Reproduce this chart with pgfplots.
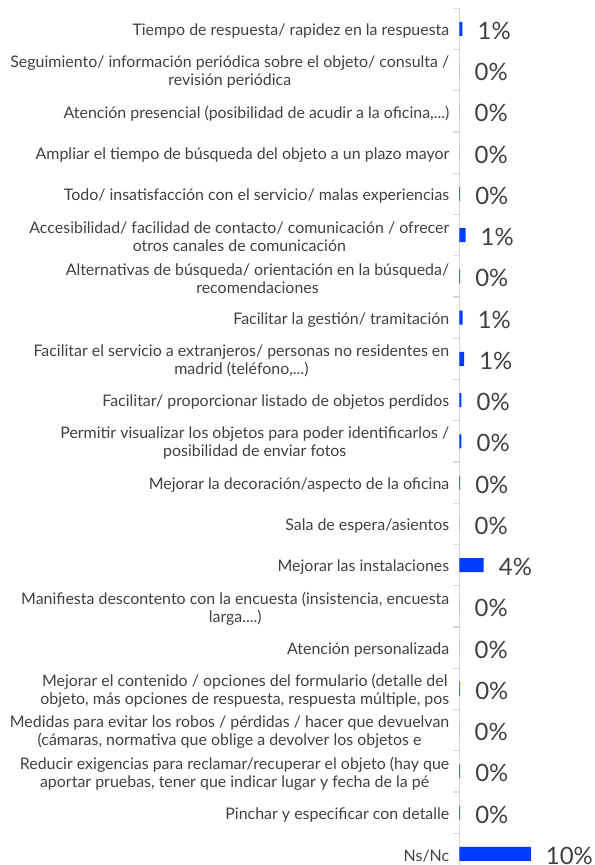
\documentclass[border=0pt]{standalone}
\usepackage{pgfplots}
\pgfplotsset{compat=1.18}
\usepackage{fontspec}
\setmainfont{Lato}
\definecolor{barblue}{RGB}{0,60,255}
\definecolor{txtgray}{RGB}{64,64,64}
\definecolor{axgray}{RGB}{217,217,217}
\newcommand{\tdots}{...}
\begin{document}
\begin{tikzpicture}
\begin{axis}[
  x=7.13bp, y=41.25bp,
  y dir=reverse,
  scale only axis,
  xmin=0, xmax=18.93,
  ymin=-0.5, ymax=20.27,
  axis y line*=left,
  axis x line=none,
  axis line style={axgray, line width=1.6bp},
  xtick=\empty,
  ytick={0,1,2,3,4,5,6,7,8,9,10,11,12,13,14,15,16,17,18,19,20},
  minor ytick={-0.5,0.5,1.5,2.5,3.5,4.5,5.5,6.5,7.5,8.5,9.5,10.5,11.5,12.5,13.5,14.5,15.5,16.5,17.5,18.5,19.5},
  major tick length=0pt,
  minor tick length=6bp,
  tick align=outside,
  every minor tick/.style={axgray, line width=1.2bp},
  yticklabels={
    {Tiempo de respuesta/ rapidez en la respuesta},
    {Seguimiento/ información periódica sobre el objeto/ consulta /\\revisión periódica},
    {Atención presencial (posibilidad de acudir a la oficina,\tdots)},
    {Ampliar el tiempo de búsqueda del objeto a un plazo mayor},
    {Todo/ insatisfacción con el servicio/ malas experiencias},
    {Accesibilidad/ facilidad de contacto/ comunicación / ofrecer\\otros canales de comunicación},
    {Alternativas de búsqueda/ orientación en la búsqueda/\\recomendaciones},
    {Facilitar la gestión/ tramitación},
    {Facilitar el servicio a extranjeros/ personas no residentes en\\madrid (teléfono,\tdots)},
    {Facilitar/ proporcionar listado de objetos perdidos},
    {Permitir visualizar los objetos para poder identificarlos /\\posibilidad de enviar fotos},
    {Mejorar la decoración/aspecto de la oficina},
    {Sala de espera/asientos},
    {Mejorar las instalaciones},
    {Manifiesta descontento con la encuesta (insistencia, encuesta\\larga.\tdots)},
    {Atención personalizada},
    {Mejorar el contenido / opciones del formulario (detalle del\\objeto, más opciones de respuesta, respuesta múltiple, pos},
    {Medidas para evitar los robos / pérdidas / hacer que devuelvan\\(cámaras, normativa que oblige a devolver los objetos e},
    {Reducir exigencias para reclamar/recuperar el objeto (hay que\\aportar pruebas, tener que indicar lugar y fecha de la pé},
    {Pinchar y especificar con detalle},
    {Ns/Nc}
  },
  yticklabel style={align=center, font=\fontsize{16}{18}\selectfont, text=txtgray, inner sep=0pt, xshift=-10bp, yshift=-2bp},
  clip=false,
  point meta=explicit symbolic,
  nodes near coords={\pgfplotspointmeta\%},
  every node near coord/.append style={anchor=west, inner sep=0pt, xshift=15bp, yshift=-2bp, font=\fontsize{24}{28}\selectfont, text=txtgray},
]
\addplot[xbar, bar width=14bp, fill=barblue, draw=none] coordinates {
  (0.42,0) [1]
  (0,1) [0]
  (0,2) [0]
  (0,3) [0]
  (0.1,4) [0]
  (0.85,5) [1]
  (0.1,6) [0]
  (0.45,7) [1]
  (0.65,8) [1]
  (0.28,9) [0]
  (0.28,10) [0]
  (0.1,11) [0]
  (0,12) [0]
  (3.4,13) [4]
  (0,14) [0]
  (0,15) [0]
  (0.1,16) [0]
  (0,17) [0]
  (0.1,18) [0]
  (0.1,19) [0]
  (10,20) [10]
};
\coordinate (tl) at (axis cs:0,-0.5);
\coordinate (br) at (axis cs:0,20.27);
\end{axis}
\pgfresetboundingbox
\path ([xshift=-459.5bp,yshift=8.3bp]tl) rectangle ([xshift=135.5bp]br);
\end{tikzpicture}
\end{document}
